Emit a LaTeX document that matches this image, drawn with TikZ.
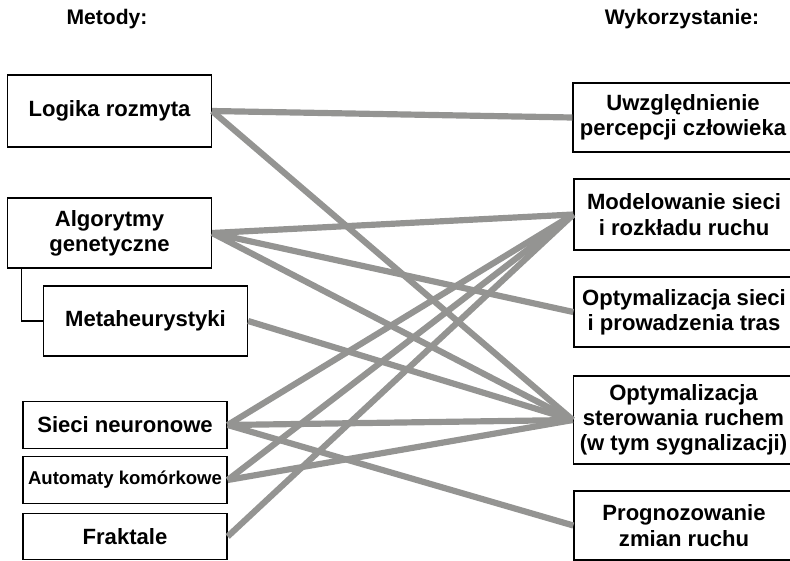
\documentclass[tikz,border=0pt]{standalone}
\usepackage{fontspec}
\setmainfont{Liberation Sans}
\usepackage{xcolor}
\usepackage{tikz}
\usetikzlibrary{positioning}
\definecolor{linkgray}{RGB}{148,148,146}

\begin{document}
\begin{tikzpicture}[
  x=0.025cm, y=-0.025cm,
  box/.style={draw, line width=0.9pt, align=center, inner sep=1pt,
              font=\fontsize{15.7}{18}\selectfont\bfseries},
  lbox/.style={box, minimum width=5.1cm, minimum height=1.75cm},
  sbox/.style={box, minimum width=5.1cm, minimum height=1.16cm},
  rbox/.style={box, minimum width=5.5cm},
  head/.style={font=\fontsize{15}{17}\selectfont\bfseries},
  link/.style={line width=4.4pt, linkgray},
  tie/.style={line width=0.9pt}]
\useasboundingbox (0,0) rectangle (790,560);
% headers
\node[head] (hmet) at (107,19) {Metody:};
\node[head] (hwyk) at (682,19) {Wykorzystanie:};
% methods
\node[lbox, minimum height=1.8cm] (fuzzy) at (109.5,111) {Logika rozmyta};
\node[lbox] (gen) at (109.5,233) {Algorytmy\\genetyczne};
\node[lbox] (meta) at (145.5,321) {Metaheurystyki};
\node[sbox] (ann) at (125,425) {Sieci neuronowe};
\node[sbox, font=\fontsize{13.2}{15}\selectfont\bfseries] (ca) at (125,480) {Automaty komórkowe};
\node[sbox] (frac) at (125,536.5) {Fraktale};
\draw[tie] ([xshift=3.75mm]gen.south west) |- (meta.west);
% applications
\node[rbox, minimum height=1.73cm] (perc) at (683,117.5) {Uwzględnienie\\percepcji człowieka};
\node[rbox, minimum height=1.78cm] (model) at (684,214.5) {Modelowanie sieci\\i rozkładu ruchu};
\node[rbox, minimum height=1.75cm] (route) at (684,312) {Optymalizacja sieci\\i prowadzenia tras};
\node[rbox, minimum height=2.2cm] (ctrl) at (683.5,420) {Optymalizacja\\sterowania ruchem\\(w tym sygnalizacji)};
\node[rbox, minimum height=1.73cm] (fcst) at (684,525.5) {Prognozowanie\\zmian ruchu};
% links
\draw[link] (fuzzy.east) -- (perc.west); \draw[link] (fuzzy.east) -- (ctrl.west);
\draw[link] (gen.east) -- (model.west); \draw[link] (gen.east) -- (route.west);
\draw[link] (gen.east) -- (ctrl.west);
\draw[link] (meta.east) -- (ctrl.west);
\draw[link] (ann.east) -- (model.west); \draw[link] (ann.east) -- (ctrl.west);
\draw[link] (ann.east) -- (fcst.west);
\draw[link] (ca.east) -- (model.west); \draw[link] (ca.east) -- (ctrl.west);
\draw[link] (frac.east) -- (model.west);
\end{tikzpicture}
\end{document}
